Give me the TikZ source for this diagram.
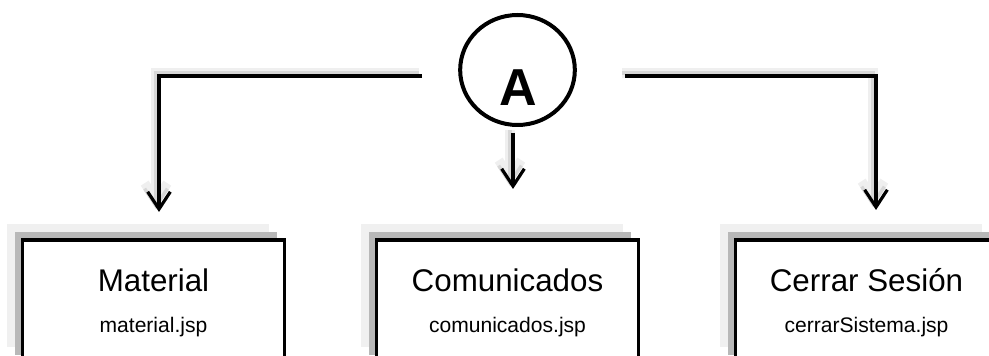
\documentclass[tikz,border=0pt]{standalone}
\usepackage{fontspec}
\setmainfont{Liberation Sans}
\usetikzlibrary{arrows.meta,positioning,calc,shadows,shapes.geometric}
\definecolor{ink}{RGB}{0,0,0}
\definecolor{shadowdark}{RGB}{184,184,184}
\definecolor{shadowlight}{RGB}{240,240,240}
\definecolor{lineshade}{RGB}{215,215,215}

\begin{document}
\begin{tikzpicture}[
  x=0.75pt, y=-0.75pt, >={Straight Barb[length=13pt,width=17pt]},
  pagebox/.style={draw=ink, fill=white, line width=2.6pt, minimum width=196.5pt, minimum height=92pt, inner sep=0pt,
    general shadow={fill=shadowlight, shadow xshift=-12pt, shadow yshift=12pt},
    general shadow={fill=shadowdark, shadow xshift=-6pt, shadow yshift=6pt}},
  menucircle/.style={ellipse, draw=ink, line width=3pt, minimum width=86pt, minimum height=82.5pt, inner sep=0pt},
  letter/.style={font=\fontsize{39}{44}\selectfont\bfseries, inner sep=0pt},
  pagetitle/.style={font=\fontsize{23.5}{27}\selectfont, inner sep=0pt},
  pagefile/.style={font=\fontsize{15.8}{19}\selectfont, inner sep=0pt},
  link/.style={->, draw=ink, line width=2.4pt,
    preaction={draw=lineshade!40, line width=7pt, transform canvas={shift={(-3,-3)}}},
    preaction={draw=lineshade, line width=2.5pt, transform canvas={shift={(-3,-3)}}}},
]
\useasboundingbox (0,0) rectangle (989,356);
\clip (0,0) rectangle (989,356);

% ------------------------------------------------------------------ menu node
\node[menucircle] (menuA) at (517.5,70) {};
\node[letter, anchor=base] (letterA) at (518.5,106) {A};

% ------------------------------------------------------------------ pages
\node[pagebox] (boxmat) at (153.5,301.5) {};
\node[pagebox] (boxcom) at (507.5,301.5) {};
\node[pagebox] (boxcer) at (866.5,301.5) {};

\node[pagetitle, anchor=base] (mattitle) at ($(boxmat.north)+(0,53.5)$) {Material};
\node[pagefile, anchor=base] (matfile) at ($(boxmat.north)+(0,94.5)$) {material.jsp};
\node[pagetitle, anchor=base] (comtitle) at ($(boxcom.north)+(0,53.5)$) {Comunicados};
\node[pagefile, anchor=base] (comfile) at ($(boxcom.north)+(0,94.5)$) {comunicados.jsp};
\node[pagetitle, anchor=base] (certitle) at ($(boxcer.north)+(0,53.5)$) {Cerrar Sesión};
\node[pagefile, anchor=base] (cerfile) at ($(boxcer.north)+(0,94.5)$) {cerrarSistema.jsp};

% ------------------------------------------------------------------ links
\coordinate (leftstart) at (422,76);
\coordinate (mattip) at (159,212);
\coordinate (midstart) at (513,133);
\coordinate (comtip) at (513,189);
\coordinate (rightstart) at (625,76);
\coordinate (certip) at (876,210);

\draw[link] (leftstart) -| (mattip);
\draw[link] (midstart) -- (comtip);
\draw[link] (rightstart) -| (certip);
\end{tikzpicture}
\end{document}
